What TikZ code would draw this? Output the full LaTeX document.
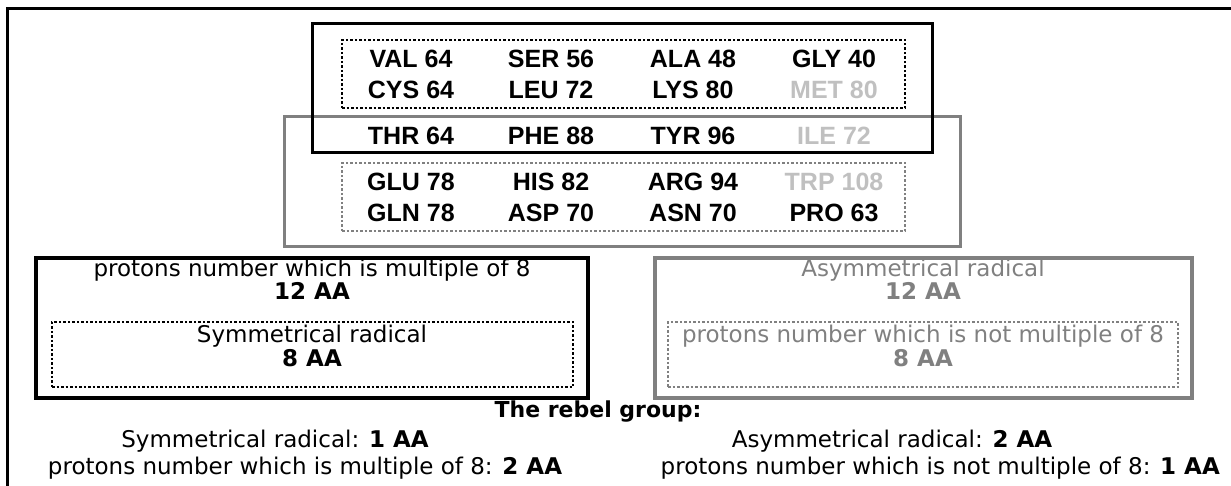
\documentclass[tikz,border=0pt]{standalone}
\usepackage{fontspec}
\setmainfont{DejaVu Sans}
\newfontfamily\aafont{Liberation Sans}[BoldFont={Liberation Sans Bold}]
\definecolor{midgrey}{HTML}{808080}
\definecolor{lightgrey}{HTML}{C0C0C0}
\tikzset{
  framepath/.style={line width=2.5pt},
  bbox/.style={draw=black, line width=3pt, inner sep=0pt},
  gbox/.style={draw=midgrey, line width=3pt, inner sep=0pt},
  bdot/.style={draw=black, line width=2.5pt, dash pattern=on 2.5pt off 2pt, inner sep=0pt},
  gdot/.style={draw=midgrey, line width=2.5pt, dash pattern=on 2.5pt off 2pt, inner sep=0pt},
  aa/.style={font=\aafont\bfseries\fontsize{25}{25}\selectfont, inner sep=0pt},
  aal/.style={aa, text=lightgrey},
  boxtxt/.style={font=\fontsize{23}{23}\selectfont, inner sep=0pt, text height=0.75em, text depth=0.25em},
  gboxtxt/.style={boxtxt, text=midgrey},
  txt/.style={font=\fontsize{23}{23}\selectfont, inner sep=0pt, text height=0.75em, text depth=0.25em},
  rebeltxt/.style={font=\bfseries\fontsize{22}{22}\selectfont, inner sep=0pt, text height=0.75em, text depth=0.25em},
}
\begin{document}
\begin{tikzpicture}[x=1pt,y=-1pt]
\useasboundingbox (0,0) rectangle (1231,486);
% outer frame (top and left)
\coordinate (fr1) at (1231,8.5);
\coordinate (fr2) at (7.5,8.5);
\coordinate (fr3) at (7.5,486);
\draw[framepath] (fr1) -- (fr2) -- (fr3);
% top boxes
\node[gbox, minimum width=676pt, minimum height=130pt] (greybox) at (622,182) {};
\node[bbox, minimum width=620pt, minimum height=129pt] (blackbox) at (622,88.5) {};
\node[bdot, minimum width=563pt, minimum height=68pt] (blackdot) at (623.5,74) {};
\node[gdot, minimum width=563pt, minimum height=68pt] (greydot) at (623.5,197) {};
% amino acids
\node[aa]  (val) at (411,59) {VAL 64};
\node[aa]  (ser) at (551,59) {SER 56};
\node[aa]  (ala) at (693,59) {ALA 48};
\node[aa]  (gly) at (834,59) {GLY 40};
\node[aa]  (cys) at (411,90) {CYS 64};
\node[aa]  (leu) at (551,90) {LEU 72};
\node[aa]  (lys) at (693,90) {LYS 80};
\node[aal] (met) at (834,90) {MET 80};
\node[aa]  (thr) at (411,136) {THR 64};
\node[aa]  (phe) at (551,136) {PHE 88};
\node[aa]  (tyr) at (693,136) {TYR 96};
\node[aal] (ile) at (834,136) {ILE 72};
\node[aa]  (glu) at (411,182) {GLU 78};
\node[aa]  (his) at (551,182) {HIS 82};
\node[aa]  (arg) at (693,182) {ARG 94};
\node[aal] (trp) at (834,182) {TRP 108};
\node[aa]  (gln) at (411,213) {GLN 78};
\node[aa]  (asp) at (551,213) {ASP 70};
\node[aa]  (asn) at (693,213) {ASN 70};
\node[aa]  (pro) at (834,213) {PRO 63};
% lower left box
\node[bbox, line width=3.5pt, minimum width=552pt, minimum height=140pt] (lbox) at (312,328) {};
\node[bdot, minimum width=521pt, minimum height=65pt] (ldot) at (312.5,354.5) {};
\node[boxtxt] (l1) at (312,274) {protons number which is multiple of 8};
\node[boxtxt] (l2) at (312,297) {\bfseries 12 AA};
\node[boxtxt] (l3) at (312,340) {Symmetrical radical};
\node[boxtxt] (l4) at (312,364) {\bfseries 8 AA};
% lower right box
\node[gbox, line width=3.5pt, minimum width=537pt, minimum height=140pt] (rbox) at (923.5,328) {};
\node[gdot, minimum width=510pt, minimum height=65pt] (rdot) at (923,354.5) {};
\node[gboxtxt] (r1) at (923,274) {Asymmetrical radical};
\node[gboxtxt] (r2) at (923,297) {\bfseries 12 AA};
\node[gboxtxt] (r3) at (923,340) {protons number which is not multiple of 8};
\node[gboxtxt] (r4) at (923,364) {\bfseries 8 AA};
% rebel group
\node[rebeltxt] (rebel) at (598,415) {The rebel group:};
\node[txt] (s1) at (275,445) {Symmetrical radical: \textbf{1 AA}};
\node[txt] (s2) at (305,472) {protons number which is multiple of 8: \textbf{2 AA}};
\node[txt] (a1) at (892,445) {Asymmetrical radical: \textbf{2 AA}};
\node[txt, anchor=east] (a2) at (1220,472) {protons number which is not multiple of 8: \textbf{1 AA}};
\end{tikzpicture}
\end{document}
